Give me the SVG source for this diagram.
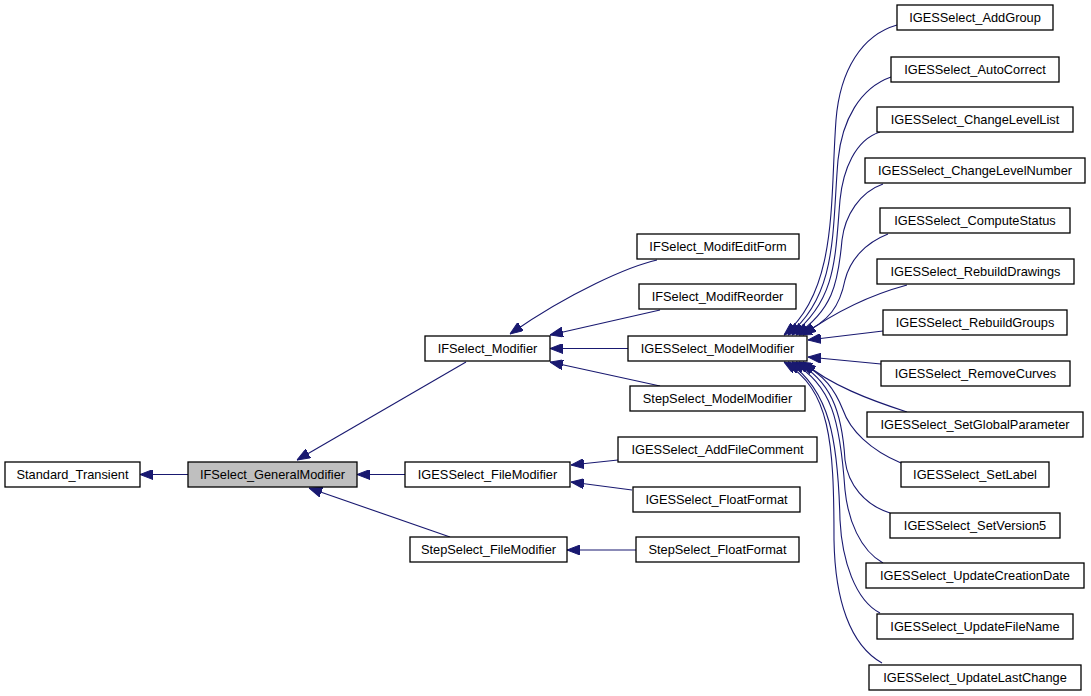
<svg xmlns="http://www.w3.org/2000/svg" width="1091" height="696" viewBox="0 0 1091 696">
<style>
.n rect{fill:#ffffff;stroke:#000000;stroke-width:1.3}
.n.g rect{fill:#bfbfbf}
.n text{font-family:"Liberation Sans",Arial,sans-serif;font-size:12.8px;fill:#000000;text-anchor:middle}
#edges path{fill:none;stroke:#191970;stroke-width:1.1;marker-end:url(#ah)}
</style>
<defs>
<marker id="ah" viewBox="0 0 13 10" markerWidth="13" markerHeight="10" markerUnits="userSpaceOnUse" refX="13" refY="5" orient="auto">
<path d="M0,0 L13,5 L0,10 z" fill="#191970" stroke="#191970" stroke-width="1"/>
</marker>
</defs>
<rect width="1091" height="696" fill="#ffffff"/>
<g id="edges">
<path d="M188,474.5 L140,474.5"/>
<path d="M466,362 L297,460"/>
<path d="M405,474.5 L357,474.5"/>
<path d="M450,537 L309,488"/>
<path d="M657,260 C630,266 570,292 510,334"/>
<path d="M660,310 L550,335"/>
<path d="M628,348.5 L550,348.5"/>
<path d="M660,386 L550,362"/>
<path d="M618,460 L571,465"/>
<path d="M632,490 L571,482"/>
<path d="M636,550 L567,550"/>
<path d="M897,25 C862,35 840,70 836,120 C830,200 838,290 784,335"/>
<path d="M891,77 C860,88 842,120 838,160 C832,230 838,295 788,335"/>
<path d="M880,132 C855,140 843,170 840,200 C835,260 836,300 792,335"/>
<path d="M883,184 C860,192 845,215 842,240 C838,285 832,310 796,335"/>
<path d="M888,234 C865,243 850,260 845,280 C840,305 830,322 799,335"/>
<path d="M907,285 C870,295 835,312 803,335"/>
<path d="M883,331 L808,340"/>
<path d="M881,364 L808,357"/>
<path d="M907,412 C870,400 830,385 803,362"/>
<path d="M901,463 C870,450 850,430 843,410 C835,390 825,375 799,362"/>
<path d="M890,513 C865,505 848,485 845,460 C842,410 830,380 796,362"/>
<path d="M883,563 C860,550 848,520 845,490 C840,420 832,385 792,362"/>
<path d="M880,613 C855,600 842,560 840,520 C838,440 830,390 788,362"/>
<path d="M882,663 C850,645 835,600 834,540 C834,440 830,390 784,362"/>
</g>
<g id="n_standard_transient" class="n"><rect x="5" y="462" width="135" height="25"/><text x="72.5" y="479">Standard_Transient</text></g>
<g id="n_generalmodifier" class="n g"><rect x="188" y="462" width="169" height="25"/><text x="272.5" y="479">IFSelect_GeneralModifier</text></g>
<g id="n_ifselect_modifier" class="n"><rect x="425" y="336" width="125" height="25"/><text x="487.5" y="353">IFSelect_Modifier</text></g>
<g id="n_modifeditform" class="n"><rect x="637" y="234" width="162" height="25"/><text x="718" y="251">IFSelect_ModifEditForm</text></g>
<g id="n_modifreorder" class="n"><rect x="639" y="284" width="157" height="25"/><text x="717.5" y="301">IFSelect_ModifReorder</text></g>
<g id="n_iges_modelmodifier" class="n"><rect x="628" y="336" width="179" height="25"/><text x="717.5" y="353">IGESSelect_ModelModifier</text></g>
<g id="n_step_modelmodifier" class="n"><rect x="630" y="386" width="175" height="25"/><text x="717.5" y="403">StepSelect_ModelModifier</text></g>
<g id="n_iges_filemodifier" class="n"><rect x="405" y="462" width="165" height="25"/><text x="487.5" y="479">IGESSelect_FileModifier</text></g>
<g id="n_addfilecomment" class="n"><rect x="618" y="437" width="199" height="25"/><text x="717.5" y="454">IGESSelect_AddFileComment</text></g>
<g id="n_iges_floatformat" class="n"><rect x="633" y="487" width="167" height="25"/><text x="716.5" y="504">IGESSelect_FloatFormat</text></g>
<g id="n_step_filemodifier" class="n"><rect x="410" y="537" width="157" height="25"/><text x="488.5" y="554">StepSelect_FileModifier</text></g>
<g id="n_step_floatformat" class="n"><rect x="636" y="537" width="163" height="25"/><text x="717.5" y="554">StepSelect_FloatFormat</text></g>
<g id="n_addgroup" class="n"><rect x="897" y="5" width="156" height="25"/><text x="975" y="22">IGESSelect_AddGroup</text></g>
<g id="n_autocorrect" class="n"><rect x="891" y="57" width="168" height="25"/><text x="975" y="74">IGESSelect_AutoCorrect</text></g>
<g id="n_changelevellist" class="n"><rect x="877" y="107" width="196" height="25"/><text x="975" y="124">IGESSelect_ChangeLevelList</text></g>
<g id="n_changelevelnumber" class="n"><rect x="865" y="158" width="220" height="25"/><text x="975" y="175">IGESSelect_ChangeLevelNumber</text></g>
<g id="n_computestatus" class="n"><rect x="880" y="208" width="190" height="25"/><text x="975" y="225">IGESSelect_ComputeStatus</text></g>
<g id="n_rebuilddrawings" class="n"><rect x="877" y="259" width="197" height="25"/><text x="975.5" y="276">IGESSelect_RebuildDrawings</text></g>
<g id="n_rebuildgroups" class="n"><rect x="883" y="310" width="184" height="25"/><text x="975" y="327">IGESSelect_RebuildGroups</text></g>
<g id="n_removecurves" class="n"><rect x="881" y="361" width="189" height="25"/><text x="975.5" y="378">IGESSelect_RemoveCurves</text></g>
<g id="n_setglobalparameter" class="n"><rect x="867" y="412" width="216" height="25"/><text x="975" y="429">IGESSelect_SetGlobalParameter</text></g>
<g id="n_setlabel" class="n"><rect x="901" y="462" width="148" height="25"/><text x="975" y="479">IGESSelect_SetLabel</text></g>
<g id="n_setversion5" class="n"><rect x="890" y="513" width="170" height="25"/><text x="975" y="530">IGESSelect_SetVersion5</text></g>
<g id="n_updatecreationdate" class="n"><rect x="866" y="563" width="218" height="25"/><text x="975" y="580">IGESSelect_UpdateCreationDate</text></g>
<g id="n_updatefilename" class="n"><rect x="877" y="614" width="196" height="25"/><text x="975" y="631">IGESSelect_UpdateFileName</text></g>
<g id="n_updatelastchange" class="n"><rect x="869" y="665" width="212" height="25"/><text x="975" y="682">IGESSelect_UpdateLastChange</text></g>
</svg>
